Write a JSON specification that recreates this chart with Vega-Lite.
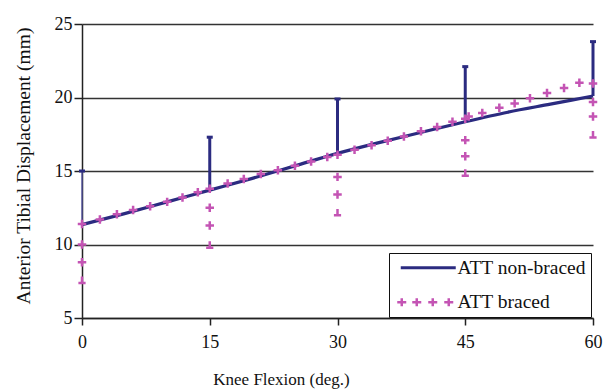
{
  "$schema": "https://vega.github.io/schema/vega-lite/v6.json",
  "width": 511,
  "height": 294,
  "autosize": "none",
  "padding": {"left": 82, "top": 24, "right": 10, "bottom": 74},
  "background": "white",
  "config": {
    "view": {"stroke": null},
    "font": "Liberation Serif",
    "axis": {
      "labelFont": "Liberation Serif",
      "titleFont": "Liberation Serif",
      "labelColor": "#111",
      "titleColor": "#111",
      "titleFontWeight": "normal",
      "domainColor": "#222",
      "domainWidth": 1.5,
      "tickColor": "#222",
      "tickWidth": 1.5
    }
  },
  "datasets": {
    "nonbraced": [
      {"x": 0, "y": 11.35, "series": "ATT non-braced"},
      {"x": 5, "y": 12.1, "series": "ATT non-braced"},
      {"x": 10, "y": 12.9, "series": "ATT non-braced"},
      {"x": 15, "y": 13.7, "series": "ATT non-braced"},
      {"x": 20, "y": 14.5, "series": "ATT non-braced"},
      {"x": 25, "y": 15.35, "series": "ATT non-braced"},
      {"x": 30, "y": 16.2, "series": "ATT non-braced"},
      {"x": 35, "y": 16.95, "series": "ATT non-braced"},
      {"x": 40, "y": 17.65, "series": "ATT non-braced"},
      {"x": 45, "y": 18.35, "series": "ATT non-braced"},
      {"x": 50, "y": 19.0, "series": "ATT non-braced"},
      {"x": 55, "y": 19.55, "series": "ATT non-braced"},
      {"x": 60, "y": 20.1, "series": "ATT non-braced"}
    ],
    "nbErr": [
      {"x": 0, "lo": 11.35, "hi": 15.0},
      {"x": 15, "lo": 13.7, "hi": 17.3},
      {"x": 30, "lo": 16.2, "hi": 19.9},
      {"x": 45, "lo": 18.35, "hi": 22.1},
      {"x": 60, "lo": 20.1, "hi": 23.8}
    ],
    "braced": [
      {"x": 0, "y": 11.4, "series": "ATT braced"},
      {"x": 2.1, "y": 11.7, "series": "ATT braced"},
      {"x": 4.1, "y": 12.05, "series": "ATT braced"},
      {"x": 6.0, "y": 12.35, "series": "ATT braced"},
      {"x": 8.0, "y": 12.6, "series": "ATT braced"},
      {"x": 10.0, "y": 12.9, "series": "ATT braced"},
      {"x": 11.8, "y": 13.2, "series": "ATT braced"},
      {"x": 13.6, "y": 13.55, "series": "ATT braced"},
      {"x": 15.0, "y": 13.8, "series": "ATT braced"},
      {"x": 17.1, "y": 14.15, "series": "ATT braced"},
      {"x": 19.0, "y": 14.45, "series": "ATT braced"},
      {"x": 21.0, "y": 14.8, "series": "ATT braced"},
      {"x": 23.0, "y": 15.05, "series": "ATT braced"},
      {"x": 25.0, "y": 15.35, "series": "ATT braced"},
      {"x": 26.9, "y": 15.65, "series": "ATT braced"},
      {"x": 28.8, "y": 15.95, "series": "ATT braced"},
      {"x": 30.0, "y": 16.1, "series": "ATT braced"},
      {"x": 32.0, "y": 16.45, "series": "ATT braced"},
      {"x": 34.0, "y": 16.75, "series": "ATT braced"},
      {"x": 35.9, "y": 17.05, "series": "ATT braced"},
      {"x": 37.8, "y": 17.35, "series": "ATT braced"},
      {"x": 39.8, "y": 17.7, "series": "ATT braced"},
      {"x": 41.7, "y": 18.0, "series": "ATT braced"},
      {"x": 43.5, "y": 18.35, "series": "ATT braced"},
      {"x": 45.0, "y": 18.55, "series": "ATT braced"},
      {"x": 45.4, "y": 18.7, "series": "ATT braced"},
      {"x": 47.0, "y": 18.95, "series": "ATT braced"},
      {"x": 49.0, "y": 19.3, "series": "ATT braced"},
      {"x": 50.8, "y": 19.6, "series": "ATT braced"},
      {"x": 52.6, "y": 19.95, "series": "ATT braced"},
      {"x": 54.6, "y": 20.3, "series": "ATT braced"},
      {"x": 56.6, "y": 20.65, "series": "ATT braced"},
      {"x": 58.4, "y": 21.0, "series": "ATT braced"},
      {"x": 60.0, "y": 20.95, "series": "ATT braced"}
    ],
    "bracedBar": [
      {"x": 0, "y": 10.0},
      {"x": 0, "y": 8.8},
      {"x": 15, "y": 12.5},
      {"x": 15, "y": 11.3},
      {"x": 30, "y": 14.6},
      {"x": 30, "y": 13.4},
      {"x": 45, "y": 17.1},
      {"x": 45, "y": 16.0},
      {"x": 60, "y": 19.7},
      {"x": 60, "y": 18.7}
    ],
    "bracedCap": [
      {"x": 0, "y": 7.6},
      {"x": 15, "y": 10.0},
      {"x": 30, "y": 12.2},
      {"x": 45, "y": 14.9},
      {"x": 60, "y": 17.5}
    ]
  },
  "layer": [
    {
      "data": {"name": "nonbraced"},
      "mark": {"type": "line", "strokeWidth": 3.2, "interpolate": "monotone"},
      "encoding": {
        "x": {
          "field": "x", "type": "quantitative",
          "scale": {"domain": [0, 60], "nice": false, "zero": false},
          "axis": {
            "values": [0, 15, 30, 45, 60],
            "grid": false,
            "title": "Knee Flexion (deg.)",
            "titleFontSize": 17,
            "titlePadding": 20,
            "titleX": 199,
            "titleAlign": "center",
            "titleBaseline": "top",
            "labelFontSize": 18,
            "labelPadding": 8,
            "tickSize": 7,
            "labelFlush": false
          }
        },
        "y": {
          "field": "y", "type": "quantitative",
          "scale": {"domain": [5, 25], "nice": false, "zero": false},
          "axis": {
            "values": [5, 10, 15, 20, 25],
            "grid": true,
            "gridColor": "#333",
            "gridWidth": 1.5,
            "title": "Anterior Tibial Displacement (mm)",
            "titleFontSize": 19.5,
            "titlePadding": 21,
            "titleY": 141.5,
            "titleAlign": "center",
            "labelFontSize": 18,
            "labelPadding": 2,
            "tickSize": 8
          }
        },
        "color": {
          "field": "series", "type": "nominal",
          "scale": {"domain": ["ATT non-braced", "ATT braced"], "range": ["#2b2b80", "#c454b4"]},
          "legend": {
            "title": null,
            "orient": "none",
            "legendX": 307,
            "legendY": 229,
            "padding": 5,
            "strokeColor": "#111",
            "fillColor": "white",
            "labelFont": "Liberation Serif",
            "labelFontSize": 19.5,
            "labelColor": "#111",
            "labelOffset": 44,
            "rowPadding": 13.5,
            "symbolSize": 4,
            "encode": {
              "symbols": {
                "update": {
                  "shape": {"signal": "datum.value === 'ATT braced' ? 'M-6.5,0H2.5M-2,-4V4M8.5,0H17.5M13,-4V4M24.5,0H33.5M29,-4V4M40.5,0H49.5M45,-4V4' : 'M-3,0H52'"},
                  "size": {"value": 4},
                  "stroke": {"signal": "datum.value === 'ATT braced' ? '#c454b4' : '#2b2b80'"},
                  "fill": {"value": "transparent"},
                  "strokeWidth": {"signal": "datum.value === 'ATT braced' ? 2.5 : 3.2"},
                  "opacity": {"value": 1}
                }
              }
            }
          }
        }
      }
    },
    {
      "data": {"name": "nbErr"},
      "transform": [{"filter": "datum.x > 0"}],
      "mark": {"type": "rule", "strokeWidth": 3, "color": "#2b2b80"},
      "encoding": {
        "x": {"field": "x", "type": "quantitative"},
        "y": {"field": "lo", "type": "quantitative"},
        "y2": {"field": "hi"}
      }
    },
    {
      "data": {"name": "nbErr"},
      "transform": [{"filter": "datum.x == 0"}],
      "mark": {"type": "rule", "strokeWidth": 1.3, "color": "#5656a8"},
      "encoding": {
        "x": {"field": "x", "type": "quantitative"},
        "y": {"field": "lo", "type": "quantitative"},
        "y2": {"field": "hi"}
      }
    },
    {
      "data": {"name": "nbErr"},
      "mark": {"type": "point", "shape": "M-1,0H1", "size": 36, "filled": false, "strokeWidth": 3, "color": "#2b2b80", "opacity": 1},
      "encoding": {
        "x": {"field": "x", "type": "quantitative"},
        "y": {"field": "hi", "type": "quantitative"}
      }
    },
    {
      "data": {"name": "braced"},
      "mark": {"type": "point", "shape": "M-1,0H1M0,-1V1", "size": 72, "filled": false, "strokeWidth": 2.5, "opacity": 1},
      "encoding": {
        "x": {"field": "x", "type": "quantitative"},
        "y": {"field": "y", "type": "quantitative"},
        "color": {"field": "series", "type": "nominal"}
      }
    },
    {
      "data": {"name": "bracedBar"},
      "mark": {"type": "point", "shape": "M-1,0H1M0,-1V1", "size": 72, "filled": false, "strokeWidth": 2.5, "color": "#c454b4", "opacity": 1},
      "encoding": {
        "x": {"field": "x", "type": "quantitative"},
        "y": {"field": "y", "type": "quantitative"}
      }
    },
    {
      "data": {"name": "bracedCap"},
      "mark": {"type": "point", "shape": "M-0.9,0.8H0.9M0,0.8V-0.8", "size": 64, "filled": false, "strokeWidth": 2.5, "color": "#c454b4", "opacity": 1},
      "encoding": {
        "x": {"field": "x", "type": "quantitative"},
        "y": {"field": "y", "type": "quantitative"}
      }
    }
  ]
}
